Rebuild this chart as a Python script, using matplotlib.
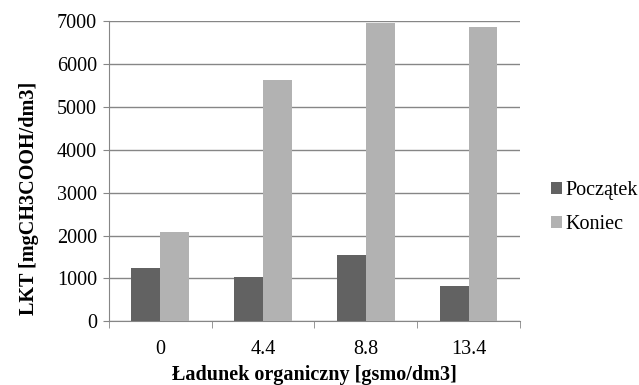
import numpy as np
import matplotlib.pyplot as plt

plt.rcParams['font.family'] = ['Liberation Serif', 'DejaVu Serif']

# dane: LKT na poczatku i na koncu dla kazdego ladunku
ladunek = ['0', '4.4', '8.8', '13.4']
poczatek = [1250, 1040, 1550, 820]
koniec = [2090, 5630, 6970, 6870]

fs = 14.5

fig = plt.figure(figsize=(6.39, 3.85), dpi=100)
ax = fig.add_axes([0.1706, 0.1655, 0.643, 0.7792])

x = np.arange(len(ladunek))
w = 0.282
ax.bar(x - w/2, poczatek, w, color='#626262', label='Początek', zorder=3)
ax.bar(x + w/2, koniec, w, color='#b2b2b2', label='Koniec', zorder=3)

ax.set_xlim(-0.5, len(ladunek) - 0.5)
ax.set_ylim(0, 7000)
ax.set_yticks(np.arange(0, 7001, 1000))
ax.yaxis.grid(True, color='#868686', linewidth=1, zorder=0)

# etykiety w srodku kategorii, kreski na granicach
ax.set_xticks(x)
ax.set_xticklabels(ladunek)
ax.set_xticks(np.arange(-0.5, len(ladunek)), minor=True)
ax.tick_params(axis='x', which='major', length=0, pad=13.5, labelsize=fs)
ax.tick_params(axis='x', which='minor', length=5, color='#868686')
ax.tick_params(axis='y', length=4.5, color='#868686', labelsize=fs, pad=4)

for s in ['top', 'right']:
    ax.spines[s].set_visible(False)
for s in ['left', 'bottom']:
    ax.spines[s].set_color('#868686')

ax.set_xlabel('Ładunek organiczny [gsmo/dm3]', fontsize=fs, fontweight='bold', labelpad=4)
ax.set_ylabel('LKT [mgCH3COOH/dm3]', fontsize=fs, fontweight='bold')
ax.yaxis.set_label_coords(-0.17, 0.41)

ax.legend(loc='center left', bbox_to_anchor=(1.075, 0.378), frameon=False,
          fontsize=fs, handlelength=0.55, handleheight=0.55, handletextpad=0.2,
          labelspacing=0.75, borderpad=0, borderaxespad=0)

fig.savefig('out.png', dpi=100)
